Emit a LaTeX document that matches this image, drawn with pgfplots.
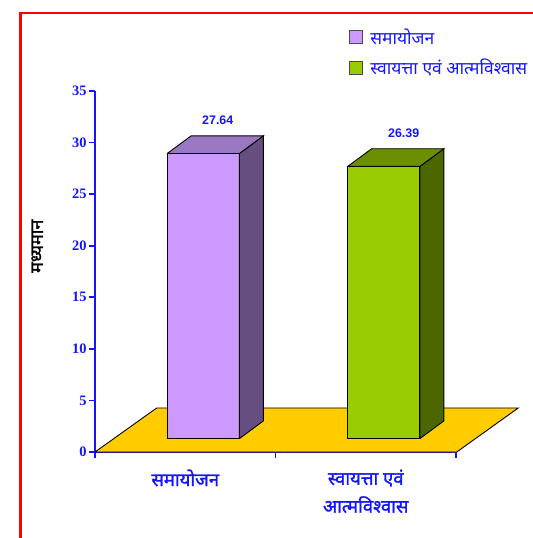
\documentclass[border=0pt]{standalone}
\usepackage{fontspec}
\usepackage{pgfplots}
\usepackage{pgfplotstable}
\pgfplotsset{compat=1.18}
\setmainfont{Liberation Serif}
\newfontfamily\dev[Script=Devanagari]{Noto Sans}
\newfontfamily\devb[Script=Devanagari, FakeBold=1.6]{Noto Sans}
\newfontfamily\arial{Liberation Sans}
\definecolor{tblue}{RGB}{20,20,255}
\definecolor{lavF}{HTML}{CC99FF}
\definecolor{lavT}{HTML}{9B79C2}
\definecolor{lavS}{HTML}{664E80}
\definecolor{grnF}{HTML}{99CC00}
\definecolor{grnT}{HTML}{6B8F00}
\definecolor{grnS}{HTML}{4C6600}
\definecolor{floorc}{HTML}{FFCC00}

% data: bar position and mean value
\pgfplotstableread{
x v
0.6 27.64
}\dataA
\pgfplotstableread{
x v
1.6 26.39
}\dataB
\pgfplotstablegetelem{0}{v}\of\dataA \edef\va{\pgfplotsretval}
\pgfplotstablegetelem{0}{x}\of\dataA \edef\xa{\pgfplotsretval}
\pgfplotstablegetelem{0}{v}\of\dataB \edef\vb{\pgfplotsretval}
\pgfplotstablegetelem{0}{x}\of\dataB \edef\xb{\pgfplotsretval}

% face templates: dx, depth dy, t (0 = bottom, 1 = top of bar)
\pgfplotstableread{
dx dy t
-0.2 0 0
0.2 0 0
0.2 0 1
-0.2 0 1
-0.2 0 0
}\frontface
\pgfplotstableread{
dx dy t
0.2 0 0
0.333 1.716 0
0.333 1.716 1
0.2 0 1
0.2 0 0
}\sideface
\pgfplotstableread{
dx dy t
-0.2 0 1
0.2 0 1
0.333 1.716 1
-0.067 1.716 1
-0.2 0 1
}\topface

\begin{document}
\begin{tikzpicture}
\begin{axis}[
  at={(95bp,-452bp)}, anchor=south west,
  scale only axis, width=361bp, height=361bp,
  xmin=0, xmax=2, ymin=0, ymax=35,
  clip=false,
  axis lines*=left,
  axis line style={tblue, line width=1.6bp},
  tick style={tblue, line width=1.6bp},
  tick align=outside,
  major tick length=6bp,
  ytick={0,5,...,35},
  xtick={0,1,2},
  xticklabels={},
  extra x ticks={0.5,1.5},
  extra x tick labels={समायोजन,{स्वायत्ता एवं\\आत्मविश्वास}},
  extra x tick style={major tick length=0pt,
    xticklabel style={font=\devb\fontsize{18.5}{28}\selectfont, text=tblue, align=center, anchor=north, yshift=-14bp}},
  /pgf/number format/assume math mode=true,
  yticklabel style={font=\bfseries\fontsize{14.5}{14.5}\selectfont, text=tblue, xshift=1bp},
  ylabel={मध्यमान},
  ylabel style={font=\devb\fontsize{18}{18}\selectfont, text=black, at={(axis description cs:-0.16,0.57)}, anchor=center},
  legend style={at={(0.704,1.178)}, anchor=north west, draw=none, fill=none,
    font=\dev\fontsize{17.5}{17.5}\selectfont, text=tblue, row sep=9bp, inner sep=0pt,
    /tikz/every odd column/.append style={column sep=5bp}},
  legend cell align=left,
]
% floor
\addplot[forget plot, mark=none, fill=floorc, draw=black, line width=0.9bp]
  coordinates {(0,0) (2.004,0) (2.345,4.27) (0.342,4.27) (0,0)};
% bar A
\addplot[forget plot, mark=none, fill=lavF, draw=black, line width=0.9bp]
  table[x expr=\thisrow{dx}+\xa, y expr=\thisrow{dy}+1.3+\thisrow{t}*\va] {\frontface};
\addplot[forget plot, mark=none, fill=lavS, draw=black, line width=0.9bp]
  table[x expr=\thisrow{dx}+\xa, y expr=\thisrow{dy}+1.3+\thisrow{t}*\va] {\sideface};
\addplot[forget plot, mark=none, fill=lavT, draw=black, line width=0.9bp]
  table[x expr=\thisrow{dx}+\xa, y expr=\thisrow{dy}+1.3+\thisrow{t}*\va] {\topface};
% bar B
\addplot[forget plot, mark=none, fill=grnF, draw=black, line width=0.9bp]
  table[x expr=\thisrow{dx}+\xb, y expr=\thisrow{dy}+1.3+\thisrow{t}*\vb] {\frontface};
\addplot[forget plot, mark=none, fill=grnS, draw=black, line width=0.9bp]
  table[x expr=\thisrow{dx}+\xb, y expr=\thisrow{dy}+1.3+\thisrow{t}*\vb] {\sideface};
\addplot[forget plot, mark=none, fill=grnT, draw=black, line width=0.9bp]
  table[x expr=\thisrow{dx}+\xb, y expr=\thisrow{dy}+1.3+\thisrow{t}*\vb] {\topface};
% value labels
\addplot[forget plot, only marks, mark=none, point meta=explicit,
  nodes near coords, nodes near coords align=center,
  nodes near coords style={font=\arial\bfseries\fontsize{12.5}{12.5}\selectfont, text=tblue}]
  table[x expr=\thisrow{x}+0.08, y expr=\thisrow{v}+4.5, meta=v] {\dataA};
\addplot[forget plot, only marks, mark=none, point meta=explicit,
  nodes near coords, nodes near coords align=center,
  nodes near coords style={font=\arial\bfseries\fontsize{12.5}{12.5}\selectfont, text=tblue}]
  table[x expr=\thisrow{x}+0.11, y expr=\thisrow{v}+4.5, meta=v] {\dataB};
% legend
\addlegendimage{legend image code/.code={\draw[fill=lavF, draw=black!70, line width=1bp] (0bp,-6.5bp) rectangle (13bp,6.5bp);}}
\addlegendentry{समायोजन}
\addlegendimage{legend image code/.code={\draw[fill=grnF, draw=black!70, line width=1bp] (0bp,-6.5bp) rectangle (13bp,6.5bp);}}
\addlegendentry{स्वायत्ता एवं आत्मविश्वास}
\end{axis}
\draw[red, line width=2.5bp] (20.5bp,-560bp) -- (20.5bp,-12.8bp) -- (560bp,-12.8bp);
\pgfresetboundingbox
\useasboundingbox (0,0) rectangle (533bp,-538bp);
\end{tikzpicture}
\end{document}
